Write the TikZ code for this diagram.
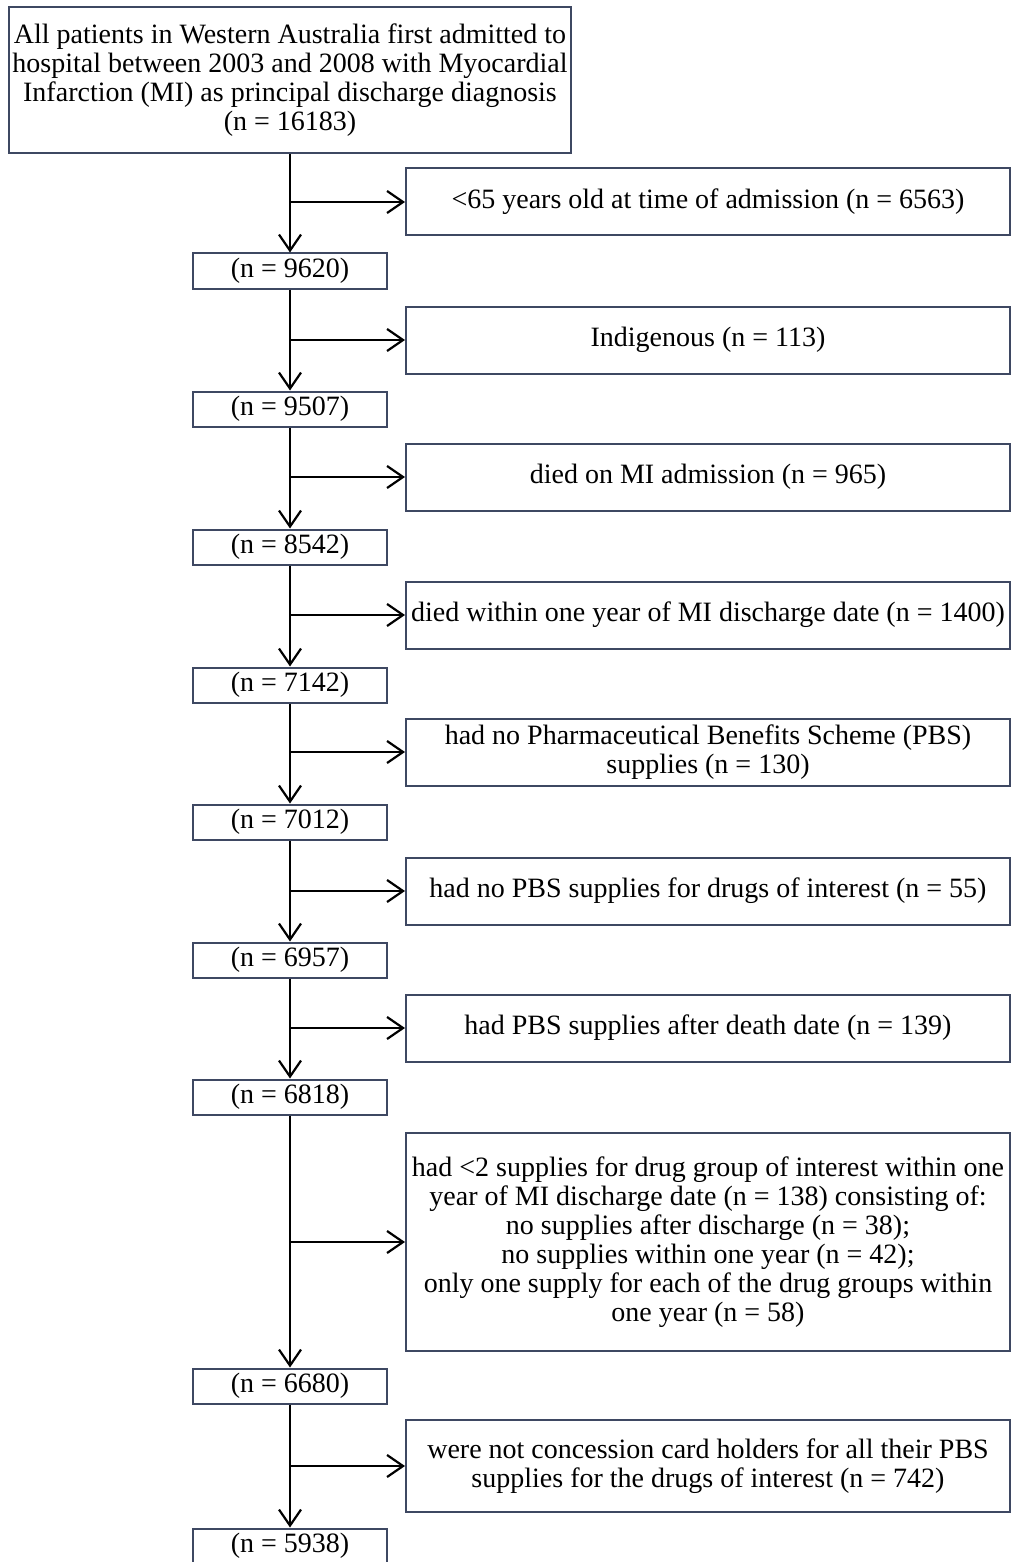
\documentclass[tikz,border=0pt]{standalone}
\usepackage{fontspec}
\setmainfont{Liberation Serif}
\usetikzlibrary{arrows.meta}
\definecolor{boxline}{RGB}{62,72,98}

\begin{document}
\begin{tikzpicture}[x=1pt, y=-1pt,
    box/.style={draw=boxline, line width=2pt, align=center, inner sep=0pt, font=\fontsize{28}{29}\selectfont},
    countbox/.style={box, minimum width=194pt, minimum height=35pt},
    exclbox/.style={box, minimum width=604pt, minimum height=67pt},
    flow/.style={line width=2.2pt, -{Straight Barb[length=16pt, width=22pt]}}]
    \useasboundingbox (0,0) rectangle (1011,1562);
    \node[box, minimum width=562pt, minimum height=146pt] (cohort) at (290,80) {All patients in Western Australia first admitted to\\hospital between 2003 and 2008 with Myocardial\\Infarction (MI) as principal discharge diagnosis\\(n = 16183)};
    \node[countbox] (n1) at (290,271) {(n = 9620)};
    \node[countbox] (n2) at (290,409) {(n = 9507)};
    \node[countbox] (n3) at (290,547) {(n = 8542)};
    \node[countbox] (n4) at (290,685) {(n = 7142)};
    \node[countbox] (n5) at (290,822) {(n = 7012)};
    \node[countbox] (n6) at (290,960) {(n = 6957)};
    \node[countbox] (n7) at (290,1097) {(n = 6818)};
    \node[countbox] (n8) at (290,1386) {(n = 6680)};
    \node[countbox] (n9) at (290,1546) {(n = 5938)};
    \node[exclbox] (age) at (708,202) {<65 years old at time of admission (n = 6563)};
    \node[exclbox] (indig) at (708,340) {Indigenous (n = 113)};
    \node[exclbox] (diedadm) at (708,477) {died on MI admission (n = 965)};
    \node[exclbox] (diedyear) at (708,615) {died within one year of MI discharge date (n = 1400)};
    \node[exclbox] (nopbs) at (708,752) {had no Pharmaceutical Benefits Scheme (PBS)\\supplies (n = 130)};
    \node[exclbox] (nodrug) at (708,891) {had no PBS supplies for drugs of interest (n = 55)};
    \node[exclbox] (afterdeath) at (708,1028) {had PBS supplies after death date (n = 139)};
    \node[exclbox, minimum height=218pt] (fewsupp) at (708,1242) {had <2 supplies for drug group of interest within one\\year of MI discharge date (n = 138) consisting of:\\no supplies after discharge (n = 38);\\no supplies within one year (n = 42);\\only one supply for each of the drug groups within\\one year (n = 58)};
    \node[exclbox, minimum height=92pt] (concess) at (708,1466) {were not concession card holders for all their PBS\\supplies for the drugs of interest (n = 742)};
    \coordinate (j1) at (290,202);
    \coordinate (j2) at (290,340);
    \coordinate (j3) at (290,477);
    \coordinate (j4) at (290,615);
    \coordinate (j5) at (290,752);
    \coordinate (j6) at (290,891);
    \coordinate (j7) at (290,1028);
    \coordinate (j8) at (290,1242);
    \coordinate (j9) at (290,1466);
    \draw[flow] (cohort) -- (n1);
    \draw[flow] (n1) -- (n2);
    \draw[flow] (n2) -- (n3);
    \draw[flow] (n3) -- (n4);
    \draw[flow] (n4) -- (n5);
    \draw[flow] (n5) -- (n6);
    \draw[flow] (n6) -- (n7);
    \draw[flow] (n7) -- (n8);
    \draw[flow] (n8) -- (n9);
    \draw[flow] (j1) -- (age);
    \draw[flow] (j2) -- (indig);
    \draw[flow] (j3) -- (diedadm);
    \draw[flow] (j4) -- (diedyear);
    \draw[flow] (j5) -- (nopbs);
    \draw[flow] (j6) -- (nodrug);
    \draw[flow] (j7) -- (afterdeath);
    \draw[flow] (j8) -- (fewsupp);
    \draw[flow] (j9) -- (concess);
\end{tikzpicture}
\end{document}
